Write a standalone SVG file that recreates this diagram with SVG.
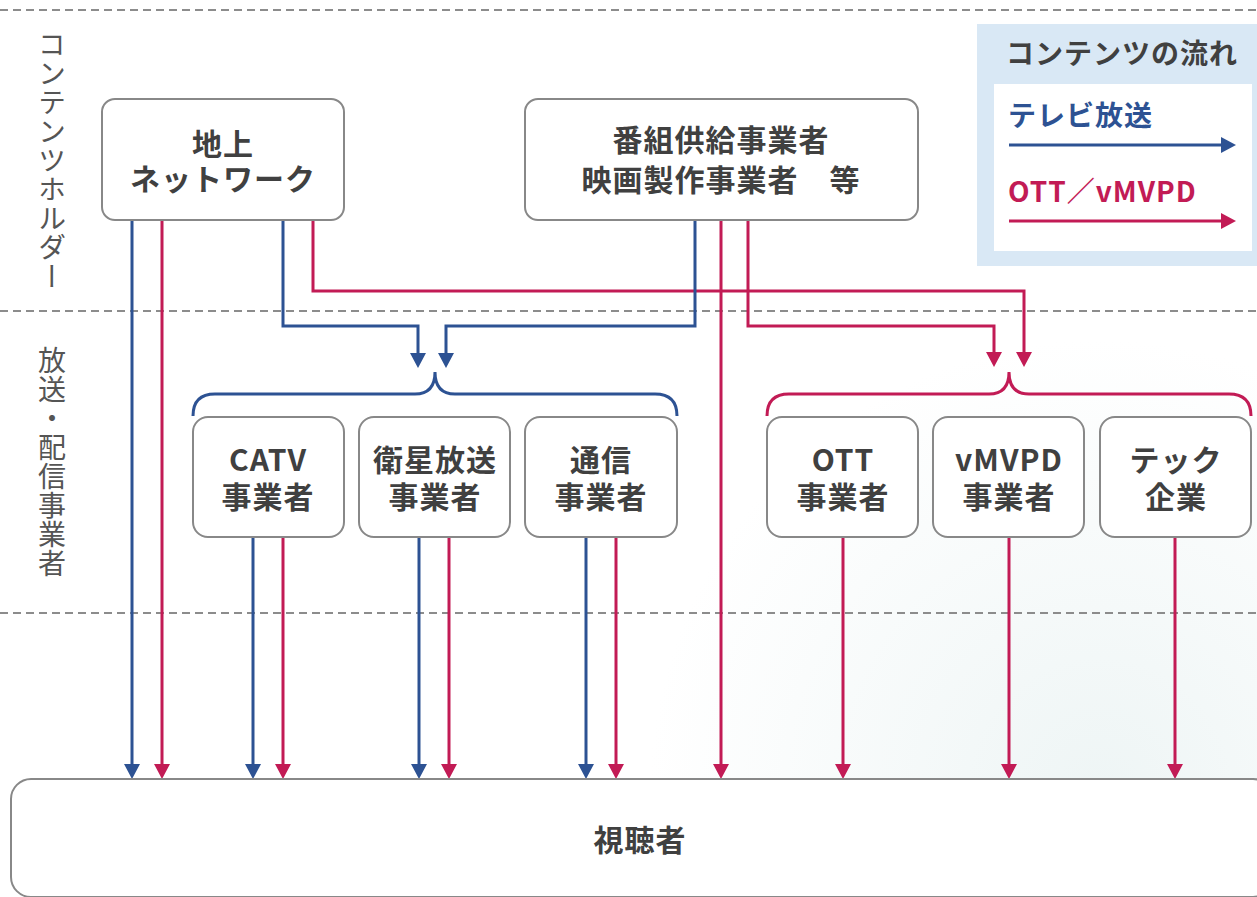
<svg xmlns="http://www.w3.org/2000/svg" width="1257" height="897" viewBox="0 0 1257 897">
<defs>
  <radialGradient id="bg" cx="1100" cy="790" r="450" gradientUnits="userSpaceOnUse">
    <stop offset="0" stop-color="#eef5f5"/>
    <stop offset="1" stop-color="#ffffff"/>
  </radialGradient>
  <marker id="ab" viewBox="0 0 15 16" refX="0" refY="8" markerWidth="15" markerHeight="16" markerUnits="userSpaceOnUse" orient="auto">
    <path d="M0,0 L15,8 L0,16 z" fill="#2d5293"/>
  </marker>
  <marker id="am" viewBox="0 0 15 16" refX="0" refY="8" markerWidth="15" markerHeight="16" markerUnits="userSpaceOnUse" orient="auto">
    <path d="M0,0 L15,8 L0,16 z" fill="#c21b55"/>
  </marker>
  <style>
    .node{fill:#ffffff;stroke:#888888;stroke-width:2}
    .lbl{font-family:"Noto Sans CJK JP","Noto Sans",sans-serif;font-weight:bold;font-size:30px;fill:#404040;text-anchor:middle;letter-spacing:1px}
    .side{font-family:"Noto Sans CJK JP","Noto Sans",sans-serif;font-size:28px;fill:#555555;letter-spacing:1px}
    .leg{font-family:"Noto Sans CJK JP","Noto Sans",sans-serif;font-weight:bold;font-size:28px}
    .dash{stroke:#8c8c8c;stroke-width:2;stroke-dasharray:8 5;fill:none}
    .b{stroke:#2d5293;stroke-width:3;fill:none;marker-end:url(#ab)}
    .m{stroke:#c21b55;stroke-width:3;fill:none;marker-end:url(#am)}
    .bb{stroke:#2d5293;stroke-width:3;fill:none}
    .mb{stroke:#c21b55;stroke-width:3;fill:none}
  </style>
</defs>
<rect x="0" y="0" width="1257" height="897" fill="url(#bg)"/>

<g id="separators">
  <line class="dash" x1="0" y1="10" x2="1257" y2="10"/>
  <line class="dash" x1="0" y1="311" x2="1257" y2="311"/>
  <line class="dash" x1="0" y1="613" x2="1257" y2="613"/>
</g>

<g id="side-labels">
  <text class="side" x="52" y="30" writing-mode="vertical-rl">コンテンツホルダー</text>
  <text class="side" x="52" y="346" writing-mode="vertical-rl">放送・配信事業者</text>
</g>

<g id="legend">
  <rect x="977" y="24" width="290" height="242" fill="#d9e8f5"/>
  <rect x="994" y="84" width="258" height="167" fill="#ffffff"/>
  <text class="leg" x="1122" y="64" fill="#404040" text-anchor="middle" letter-spacing="1">コンテンツの流れ</text>
  <text class="leg" x="1008" y="126" fill="#2d5293" letter-spacing="1">テレビ放送</text>
  <line class="b" x1="1009" y1="145" x2="1221" y2="145"/>
  <text class="leg" x="1008" y="202" fill="#c21b55" letter-spacing="1">OTT／vMVPD</text>
  <line class="m" x1="1009" y1="221" x2="1221" y2="221"/>
</g>

<g id="connectors">
  <line class="b" x1="132" y1="220" x2="132" y2="764"/>
  <line class="m" x1="162" y1="220" x2="162" y2="764"/>
  <polyline class="b" points="283,220 283,326 418,326 418,353"/>
  <polyline class="m" points="313,220 313,291 1024,291 1024,352"/>
  <polyline class="b" points="695,220 695,326 446,326 446,353"/>
  <line class="m" x1="721" y1="220" x2="721" y2="764"/>
  <polyline class="m" points="748,220 748,326 994,326 994,352"/>
  <path class="bb" d="M193,416 Q193,394 215,394 L415,394 Q435,394 435,372 Q435,394 455,394 L655,394 Q677,394 677,416"/>
  <path class="mb" d="M767,416 Q767,394 789,394 L989,394 Q1009,394 1009,372 Q1009,394 1029,394 L1229,394 Q1251,394 1251,416"/>
  <line class="b" x1="253" y1="537" x2="253" y2="764"/>
  <line class="m" x1="283" y1="537" x2="283" y2="764"/>
  <line class="b" x1="419" y1="537" x2="419" y2="764"/>
  <line class="m" x1="449" y1="537" x2="449" y2="764"/>
  <line class="b" x1="586" y1="537" x2="586" y2="764"/>
  <line class="m" x1="616" y1="537" x2="616" y2="764"/>
  <line class="m" x1="843" y1="537" x2="843" y2="764"/>
  <line class="m" x1="1009" y1="537" x2="1009" y2="764"/>
  <line class="m" x1="1175" y1="537" x2="1175" y2="764"/>
</g>

<g id="node-chijo">
  <rect class="node" x="102" y="99" width="242" height="121" rx="13"/>
  <text class="lbl" x="223" y="155">地上</text>
  <text class="lbl" x="223" y="190">ネットワーク</text>
</g>
<g id="node-bangumi">
  <rect class="node" x="525" y="99" width="393" height="121" rx="13"/>
  <text class="lbl" x="721" y="151">番組供給事業者</text>
  <text class="lbl" x="721" y="191">映画製作事業者　等</text>
</g>
<g id="node-catv">
  <rect class="node" x="193" y="417" width="151" height="120" rx="15"/>
  <text class="lbl" x="268" y="471">CATV</text>
  <text class="lbl" x="268" y="508">事業者</text>
</g>
<g id="node-eisei">
  <rect class="node" x="359" y="417" width="151" height="120" rx="15"/>
  <text class="lbl" x="435" y="471">衛星放送</text>
  <text class="lbl" x="435" y="508">事業者</text>
</g>
<g id="node-tsushin">
  <rect class="node" x="525" y="417" width="152" height="120" rx="15"/>
  <text class="lbl" x="601" y="471">通信</text>
  <text class="lbl" x="601" y="508">事業者</text>
</g>
<g id="node-ott">
  <rect class="node" x="767" y="417" width="151" height="120" rx="15"/>
  <text class="lbl" x="843" y="471">OTT</text>
  <text class="lbl" x="843" y="508">事業者</text>
</g>
<g id="node-vmvpd">
  <rect class="node" x="933" y="417" width="151" height="120" rx="15"/>
  <text class="lbl" x="1009" y="471">vMVPD</text>
  <text class="lbl" x="1009" y="508">事業者</text>
</g>
<g id="node-tech">
  <rect class="node" x="1100" y="417" width="151" height="120" rx="15"/>
  <text class="lbl" x="1176" y="471">テック</text>
  <text class="lbl" x="1176" y="508">企業</text>
</g>
<g id="node-viewer">
  <rect class="node" x="11" y="779" width="1262" height="118" rx="20"/>
  <text class="lbl" x="640" y="851">視聴者</text>
</g>
</svg>
